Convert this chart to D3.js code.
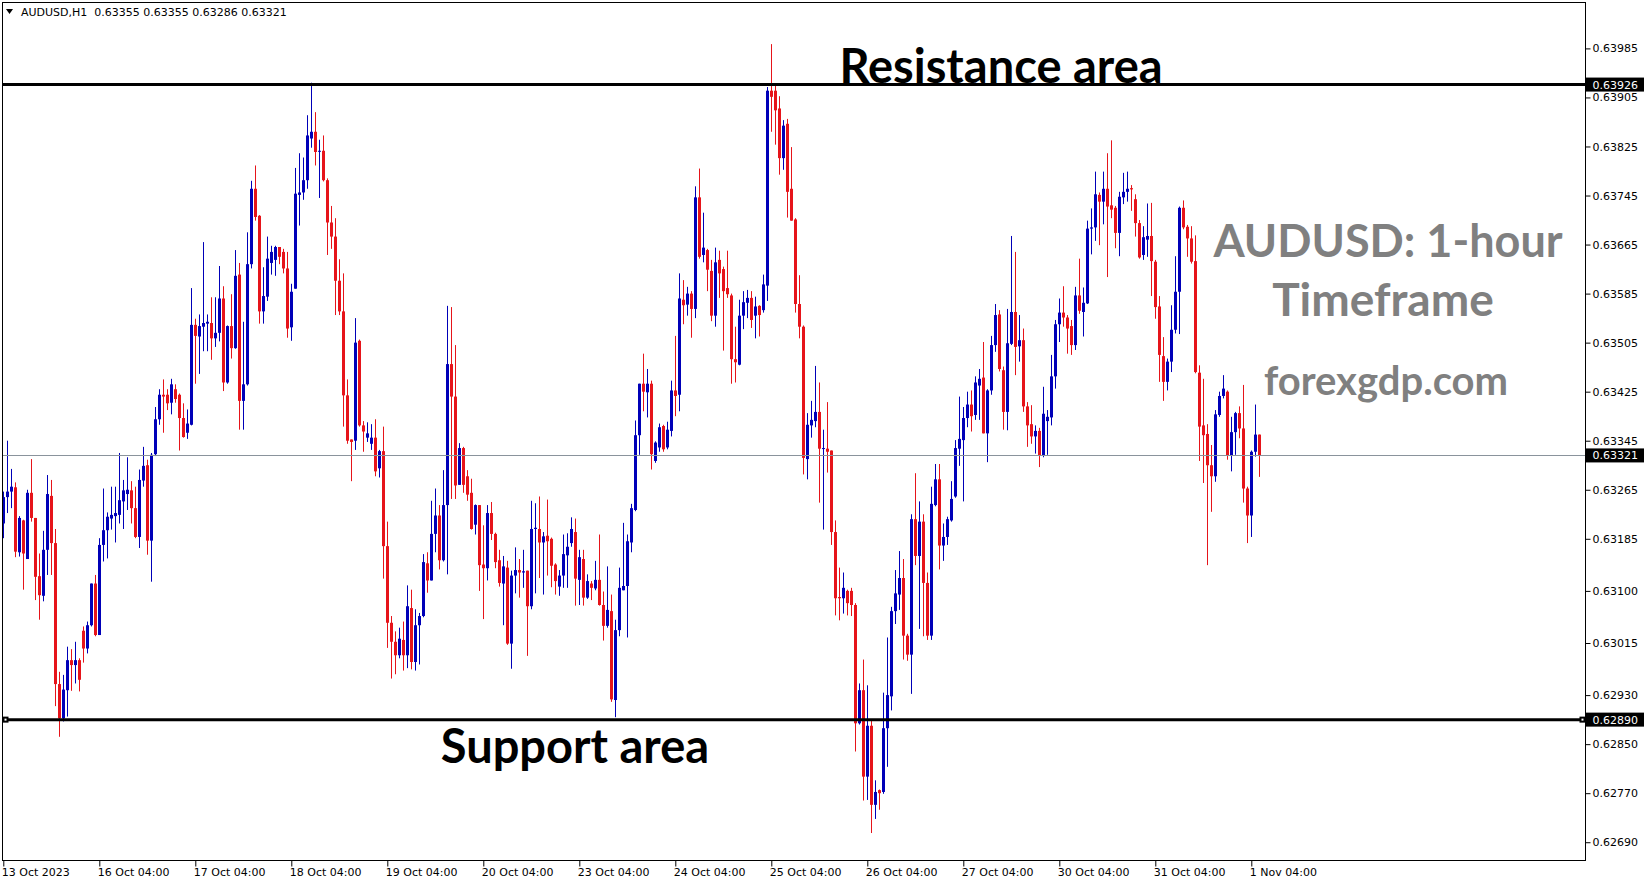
<!DOCTYPE html>
<html><head><meta charset="utf-8">
<script src="https://cdn.jsdelivr.net/npm/d3@7"></script>
<style>
html,body{margin:0;padding:0;background:#fff;overflow:hidden;}
svg{display:block;}
</style></head><body>
<svg id="chart" width="1649" height="884"></svg>
<script>
// Hourly AUDUSD bars, each [open, high, low, close]
const oct13 = [
[.63210,.63262,.63186,.63253],[.63253,.63345,.63227,.63262],[.63262,.63299,.63235,.63270],[.63269,.63277,.63155,.63164],
[.63163,.63222,.63156,.63219],[.63215,.63216,.63102,.63161],[.63152,.63265,.63152,.63260],[.63260,.63315,.63213,.63219],
[.63219,.63219,.63085,.63123],[.63124,.63161,.63053,.63093],[.63092,.63198,.63083,.63167],[.63167,.63289,.63126,.63258],
[.63255,.63281,.63126,.63178],[.63178,.63201,.62912,.62948],[.62948,.62968,.62862,.62892],[.62892,.62963,.62887,.62939],
[.62938,.63009,.62895,.62987],[.62987,.63005,.62937,.62979],[.62979,.63017,.62949,.62987],[.62987,.62990,.62936,.62955]];
const oct16 = [
[.63035,.63042,.62983,.63006],[.63006,.63050,.62998,.63044],[.63044,.63112,.63042,.63112],[.63112,.63126,.63026,.63028],
[.63028,.63186,.63028,.63175],[.63175,.63267,.63148,.63199],[.63199,.63228,.63153,.63221],[.63218,.63270,.63200,.63224],
[.63222,.63270,.63179,.63227],[.63224,.63325,.63210,.63248],[.63246,.63281,.63201,.63264],[.63258,.63318,.63232,.63265],
[.63264,.63279,.63210,.63235],[.63235,.63270,.63186,.63188],[.63188,.63298,.63170,.63281],[.63280,.63335,.63270,.63304],
[.63305,.63314,.63159,.63182],[.63182,.63325,.63115,.63322],[.63323,.63400,.63320,.63380],[.63380,.63429,.63371,.63420],
[.63420,.63445,.63358,.63417],[.63420,.63429,.63395,.63406],[.63407,.63446,.63388,.63437],[.63429,.63437,.63407,.63413]];
const oct17 = [
[.63420,.63422,.63329,.63382],[.63382,.63406,.63350,.63351],[.63358,.63396,.63348,.63373],[.63371,.63594,.63370,.63534],
[.63534,.63544,.63438,.63516],[.63515,.63551,.63454,.63532],[.63531,.63669,.63491,.63537],[.63536,.63551,.63491,.63539],
[.63537,.63579,.63477,.63512],[.63512,.63579,.63498,.63521],[.63521,.63630,.63507,.63577],[.63577,.63597,.63426,.63440],
[.63440,.63533,.63438,.63532],[.63532,.63584,.63479,.63496],[.63496,.63656,.63495,.63614],[.63616,.63635,.63363,.63410],
[.63410,.63539,.63363,.63437],[.63437,.63685,.63435,.63633],[.63633,.63769,.63626,.63756],[.63756,.63794,.63704,.63710],
[.63712,.63713,.63536,.63556],[.63556,.63628,.63536,.63581],[.63580,.63678,.63573,.63642],[.63635,.63663,.63616,.63653]];
const oct18 = [
[.63640,.63663,.63614,.63661],[.63661,.63661,.63633,.63645],[.63653,.63658,.63618,.63626],[.63626,.63653,.63513,.63528],
[.63530,.63601,.63508,.63588],[.63593,.63790,.63593,.63748],[.63746,.63814,.63696,.63750],[.63750,.63807,.63738,.63770],
[.63770,.63876,.63756,.63843],[.63838,.63929,.63823,.63849],[.63849,.63881,.63794,.63816],[.63818,.63836,.63741,.63818],
[.63818,.63843,.63768,.63770],[.63770,.63773,.63648,.63701],[.63701,.63728,.63658,.63678],[.63678,.63708,.63550,.63606],
[.63606,.63641,.63550,.63556],[.63556,.63618,.63368,.63419],[.63419,.63445,.63340,.63345],[.63347,.63347,.63279,.63343],
[.63345,.63545,.63330,.63505],[.63508,.63510,.63368,.63370],[.63370,.63377,.63327,.63360],[.63350,.63375,.63343,.63357]];
const oct19 = [
[.63340,.63372,.63330,.63350],[.63350,.63380,.63287,.63295],[.63300,.63330,.63285,.63328],[.63328,.63368,.63120,.63173],
[.63173,.63213,.63007,.63048],[.63048,.63059,.62957,.63017],[.63017,.63034,.62964,.62995],[.62995,.63040,.62990,.63022],
[.63020,.63050,.62970,.62995],[.62995,.63109,.62974,.63075],[.63072,.63102,.62972,.62984],[.62984,.63070,.62970,.63044],
[.63044,.63064,.62980,.63059],[.63059,.63160,.63057,.63147],[.63145,.63163,.63097,.63117],[.63117,.63247,.63117,.63193],
[.63193,.63267,.63163,.63223],[.63223,.63240,.63135,.63150],[.63150,.63297,.63148,.63240],[.63240,.63565,.63127,.63470],
[.63470,.63563,.63250,.63417],[.63417,.63501,.63250,.63272],[.63273,.63341,.63273,.63333],[.63333,.63335,.63260,.63273]];
const oct20 = [
[.63287,.63297,.63247,.63257],[.63260,.63283,.63200,.63201],[.63208,.63241,.63192,.63240],[.63240,.63240,.63100,.63142],
[.63143,.63207,.63054,.63137],[.63137,.63240,.63117,.63227],[.63227,.63245,.63183,.63193],[.63193,.63195,.63137,.63147],
[.63150,.63167,.63107,.63113],[.63112,.63157,.63044,.63140],[.63138,.63149,.63012,.63014],[.63014,.63133,.62973,.63125],
[.63125,.63171,.63096,.63134],[.63134,.63152,.63089,.63130],[.63130,.63167,.63105,.63132],[.63133,.63133,.62994,.63075],
[.63075,.63247,.63070,.63201],[.63201,.63243,.63096,.63203],[.63201,.63254,.63121,.63179],[.63179,.63196,.63094,.63189],
[.63190,.63249,.63125,.63181],[.63185,.63187,.63106,.63141],[.63143,.63145,.63094,.63116],[.63107,.63134,.63092,.63125]];
const oct23 = [
[.63125,.63192,.63105,.63160],[.63158,.63194,.63105,.63172],[.63178,.63220,.63172,.63201],[.63196,.63218,.63076,.63120],
[.63118,.63167,.63077,.63155],[.63152,.63167,.63076,.63089],[.63089,.63127,.63087,.63116],[.63112,.63116,.63085,.63105],
[.63104,.63149,.63101,.63118],[.63118,.63192,.63076,.63077],[.63077,.63099,.63019,.63043],[.63043,.63140,.63040,.63069],
[.63067,.63094,.62919,.62923],[.62922,.63053,.62894,.63036],[.63036,.63138,.63026,.63105],[.63101,.63211,.63101,.63108],
[.63108,.63192,.63024,.63181],[.63179,.63242,.63163,.63235],[.63232,.63378,.63230,.63354],[.63354,.63438,.63322,.63438],
[.63438,.63487,.63393,.63425],[.63424,.63462,.63383,.63438],[.63438,.63443,.63298,.63323],[.63312,.63344,.63309,.63342]];
const oct24 = [
[.63334,.63373,.63327,.63367],[.63369,.63371,.63327,.63331],[.63334,.63376,.63331,.63363],[.63361,.63443,.63352,.63427],
[.63427,.63516,.63385,.63418],[.63420,.63618,.63393,.63577],[.63575,.63607,.63535,.63566],[.63567,.63596,.63549,.63585],
[.63585,.63589,.63513,.63560],[.63560,.63760,.63545,.63742],[.63742,.63789,.63642,.63645],[.63648,.63717,.63636,.63660],
[.63656,.63658,.63589,.63624],[.63622,.63640,.63540,.63549],[.63549,.63660,.63531,.63636],[.63640,.63655,.63578,.63618],
[.63625,.63629,.63492,.63589],[.63594,.63655,.63578,.63584],[.63582,.63585,.63438,.63478],[.63478,.63531,.63440,.63473],
[.63469,.63575,.63468,.63549],[.63549,.63589,.63527,.63571],[.63570,.63591,.63545,.63578],[.63578,.63589,.63529,.63542]];
const oct25 = [
[.63549,.63580,.63512,.63564],[.63565,.63566,.63515,.63550],[.63558,.63616,.63554,.63600],[.63598,.63922,.63573,.63916],
[.63916,.63992,.63849,.63906],[.63916,.63928,.63828,.63884],[.63887,.63907,.63779,.63806],[.63806,.63868,.63787,.63859],
[.63862,.63870,.63709,.63751],[.63756,.63824,.63704,.63704],[.63706,.63708,.63554,.63568],[.63568,.63615,.63512,.63531],
[.63531,.63533,.63290,.63317],[.63315,.63390,.63282,.63371],[.63370,.63410,.63350,.63379],[.63377,.63467,.63367,.63392],
[.63392,.63440,.63244,.63332],[.63333,.63363,.63200,.63333],[.63332,.63408,.63293,.63327],[.63329,.63329,.63175,.63196],
[.63196,.63215,.63060,.63088],[.63090,.63138,.63052,.63088],[.63088,.63130,.63063,.63105],[.63100,.63102,.63060,.63080]];
const oct26 = [
[.63100,.63105,.63059,.63077],[.63077,.63080,.62838,.62884],[.62884,.62949,.62882,.62938],[.62938,.62988,.62758,.62797],
[.62797,.62946,.62759,.62880],[.62880,.62891,.62705,.62751],[.62751,.62791,.62728,.62772],[.62775,.62776,.62743,.62770],
[.62772,.62934,.62769,.62876],[.62876,.63024,.62813,.62930],[.62928,.63074,.62905,.63067],[.63067,.63134,.63046,.63096],
[.63094,.63165,.63069,.63121],[.63121,.63152,.62988,.63027],[.63027,.63030,.62986,.62996],[.62996,.63225,.62932,.63217],
[.63217,.63292,.63142,.63157],[.63157,.63246,.63038,.63213],[.63213,.63225,.63026,.63113],[.63113,.63130,.63020,.63027],
[.63027,.63270,.63020,.63242],[.63240,.63307,.63238,.63282],[.63282,.63307,.63135,.63174],[.63174,.63210,.63149,.63188]];
const oct27 = [
[.63188,.63221,.63175,.63217],[.63215,.63279,.63213,.63250],[.63254,.63346,.63252,.63333],[.63332,.63417,.63304,.63348],
[.63346,.63400,.63246,.63382],[.63382,.63425,.63367,.63404],[.63404,.63427,.63360,.63385],[.63387,.63450,.63379,.63440],
[.63435,.63462,.63379,.63446],[.63448,.63506,.63357,.63357],[.63357,.63429,.63310,.63427],[.63427,.63516,.63420,.63501],
[.63501,.63568,.63490,.63550],[.63551,.63558,.63458,.63462],[.63460,.63466,.63363,.63392],[.63392,.63560,.63362,.63504],
[.63503,.63679,.63501,.63555],[.63555,.63653,.63452,.63498],[.63499,.63550,.63474,.63509],[.63509,.63528,.63392,.63401],
[.63401,.63408,.63335,.63370],[.63372,.63403,.63340,.63352],[.63352,.63370,.63324,.63361],[.63361,.63366,.63302,.63321]];
const oct30 = [
[.63321,.63433,.63318,.63389],[.63377,.63395,.63322,.63384],[.63383,.63485,.63370,.63450],[.63450,.63542,.63430,.63535],
[.63535,.63577,.63506,.63554],[.63554,.63597,.63531,.63546],[.63546,.63550,.63487,.63528],[.63532,.63542,.63485,.63501],
[.63501,.63596,.63493,.63582],[.63582,.63642,.63552,.63557],[.63555,.63595,.63515,.63570],[.63569,.63704,.63568,.63691],
[.63691,.63724,.63649,.63693],[.63693,.63784,.63671,.63747],[.63746,.63750,.63664,.63735],[.63735,.63784,.63698,.63756],
[.63756,.63814,.63612,.63727],[.63729,.63835,.63708,.63722],[.63725,.63728,.63659,.63684],[.63684,.63751,.63646,.63743],
[.63742,.63782,.63731,.63751],[.63751,.63784,.63735,.63756],[.63757,.63762,.63720,.63755],[.63739,.63747,.63678,.63700]];
const oct31 = [
[.63700,.63705,.63642,.63644],[.63648,.63695,.63640,.63677],[.63673,.63732,.63645,.63679],[.63679,.63733,.63581,.63638],
[.63637,.63640,.63544,.63563],[.63564,.63581,.63441,.63485],[.63483,.63514,.63410,.63441],[.63441,.63479,.63427,.63474],
[.63474,.63566,.63457,.63526],[.63526,.63646,.63520,.63588],[.63588,.63727,.63519,.63725],[.63725,.63737,.63690,.63693],
[.63694,.63697,.63645,.63675],[.63675,.63695,.63634,.63637],[.63638,.63680,.63455,.63457],[.63456,.63468,.63312,.63368],
[.63370,.63446,.63276,.63354],[.63356,.63372,.63142,.63305],[.63305,.63338,.63229,.63287],[.63287,.63395,.63278,.63388],
[.63387,.63425,.63384,.63418],[.63418,.63452,.63414,.63430],[.63425,.63427,.63314,.63321],[.63321,.63384,.63295,.63359]];
const nov01 = [
[.63359,.63392,.63322,.63390],[.63390,.63401,.63349,.63365],[.63365,.63436,.63244,.63267],[.63267,.63270,.63178,.63223],
[.63223,.63329,.63188,.63327],[.63327,.63404,.63319,.63355],[.63355,.63355,.63286,.63321]];

const dateLabels = ['13 Oct 2023','16 Oct 04:00','17 Oct 04:00','18 Oct 04:00','19 Oct 04:00','20 Oct 04:00',
  '23 Oct 04:00','24 Oct 04:00','25 Oct 04:00','26 Oct 04:00','27 Oct 04:00','30 Oct 04:00','31 Oct 04:00','1 Nov 04:00'];
const priceTicks = [0.63985,0.63905,0.63825,0.63745,0.63665,0.63585,0.63505,0.63425,0.63345,
  0.63265,0.63185,0.63100,0.63015,0.62930,0.62850,0.62770,0.62690];
const resistanceLevel = 0.63926;
const supportLevel = 0.62890;
const bidLevel = 0.63321;
const headerText = 'AUDUSD,H1  0.63355 0.63355 0.63286 0.63321';

const bars = [].concat(oct13, oct16, oct17, oct18, oct19, oct20, oct23, oct24, oct25, oct26, oct27, oct30, oct31, nov01);

const frame = {l: 2.5, r: 1585.5, t: 2.5, b: 860.5};
const svg = d3.select('#chart');
const x = d3.scaleLinear().domain([0, bars.length - 1]).range([3.3, 3.3 + 4 * (bars.length - 1)]);
const y = d3.scaleLinear().domain([0.62661, 0.640607]).range([860, 2]);
const UP = '#0000b8', DN = '#e6141a';
const axisFont = '"DejaVu Sans", Verdana, sans-serif';

// candles
const plot = svg.append('g');
const cx = i => Math.round(x(i));
plot.selectAll('line.wick').data(bars).join('line').attr('class','wick')
  .attr('x1', (d,i) => cx(i) + 0.5).attr('x2', (d,i) => cx(i) + 0.5)
  .attr('y1', d => y(d[1])).attr('y2', d => y(d[2]))
  .attr('stroke', d => d[3] >= d[0] ? UP : DN).attr('stroke-width', 1);
plot.selectAll('rect.body').data(bars).join('rect').attr('class','body')
  .attr('x', (d,i) => cx(i) - 1).attr('width', 3)
  .attr('y', d => y(Math.max(d[0], d[3])))
  .attr('height', d => Math.max(1, Math.abs(y(d[0]) - y(d[3]))))
  .attr('fill', d => d[3] >= d[0] ? UP : DN);

// bid line
svg.append('line').attr('x1', frame.l).attr('x2', frame.r)
  .attr('y1', Math.round(y(bidLevel)) + 0.5).attr('y2', Math.round(y(bidLevel)) + 0.5)
  .attr('stroke', '#8a939c').attr('stroke-width', 1);

// support / resistance lines
[resistanceLevel, supportLevel].forEach(v => {
  svg.append('line').attr('x1', frame.l).attr('x2', frame.r)
    .attr('y1', y(v)).attr('y2', y(v)).attr('stroke', '#000').attr('stroke-width', 3);
});
// selection markers on support line
[frame.l + 3, frame.r - 3].forEach(px => {
  svg.append('rect').attr('x', px - 3).attr('y', y(supportLevel) - 3).attr('width', 6).attr('height', 6).attr('fill', '#000');
  svg.append('rect').attr('x', px - 1).attr('y', y(supportLevel) - 1).attr('width', 2).attr('height', 2).attr('fill', '#fff');
});

// frame
svg.append('rect').attr('x', frame.l).attr('y', frame.t)
  .attr('width', frame.r - frame.l).attr('height', frame.b - frame.t)
  .attr('fill', 'none').attr('stroke', '#000').attr('stroke-width', 1);

// right price axis
const yAxis = d3.axisRight(y).tickValues(priceTicks).tickFormat(d3.format('.5f')).tickSize(5).tickPadding(2);
const ya = svg.append('g').attr('transform', `translate(${frame.r},0)`).call(yAxis);
ya.select('.domain').remove();
ya.selectAll('text').attr('font-family', axisFont).attr('font-size', 11).attr('fill', '#000');
ya.selectAll('line').attr('stroke', '#000');

// bottom time axis
const tickIdx = dateLabels.map((d, k) => k * 24);
const xAxis = d3.axisBottom(x).tickValues(tickIdx).tickFormat((d, k) => dateLabels[k]).tickSize(6).tickPadding(0);
const xa = svg.append('g').attr('transform', `translate(0,${frame.b})`).call(xAxis);
xa.select('.domain').remove();
xa.selectAll('.tick line').attr('stroke', '#000');
xa.selectAll('.tick text').attr('font-family', axisFont).attr('font-size', 11).attr('fill', '#000')
  .attr('text-anchor', 'start').attr('dx', -2).attr('dy', 0).attr('y', 15);

// price label boxes
[[resistanceLevel], [bidLevel], [supportLevel]].forEach(([v]) => {
  const yy = y(v);
  svg.append('rect').attr('x', frame.r + 0.5).attr('y', yy - 7).attr('width', 58).attr('height', 14).attr('fill', '#000');
  svg.append('text').attr('x', frame.r + 7).attr('y', yy + 4).attr('font-family', axisFont).attr('font-size', 11)
    .attr('fill', '#fff').text(d3.format('.5f')(v));
});

// header
svg.append('path').attr('d', 'M6,9 L13,9 L9.5,14 Z').attr('fill', '#000');
svg.append('text').attr('x', 21).attr('y', 16).attr('font-family', axisFont).attr('font-size', 11)
  .attr('fill', '#000').attr('xml:space', 'preserve').style('white-space', 'pre').text(headerText);

// annotations
const annFont = 'Lato, "Open Sans", sans-serif';
svg.append('text').attr('x', 1001).attr('y', 83).attr('text-anchor', 'middle')
  .attr('font-family', annFont).attr('font-weight', 700).attr('font-size', 47).attr('fill', '#000').text('Resistance area');
svg.append('text').attr('x', 575).attr('y', 763).attr('text-anchor', 'middle')
  .attr('font-family', annFont).attr('font-weight', 700).attr('font-size', 47).attr('fill', '#000').text('Support area');
svg.append('text').attr('x', 1388).attr('y', 257).attr('text-anchor', 'middle')
  .attr('font-family', annFont).attr('font-weight', 700).attr('font-size', 45).attr('fill', '#808080').text('AUDUSD: 1-hour');
svg.append('text').attr('x', 1383).attr('y', 316).attr('text-anchor', 'middle')
  .attr('font-family', annFont).attr('font-weight', 700).attr('font-size', 46).attr('fill', '#808080').text('Timeframe');
svg.append('text').attr('x', 1386).attr('y', 395).attr('text-anchor', 'middle')
  .attr('font-family', annFont).attr('font-weight', 700).attr('font-size', 40).attr('fill', '#808080').text('forexgdp.com');
</script>
</body></html>
